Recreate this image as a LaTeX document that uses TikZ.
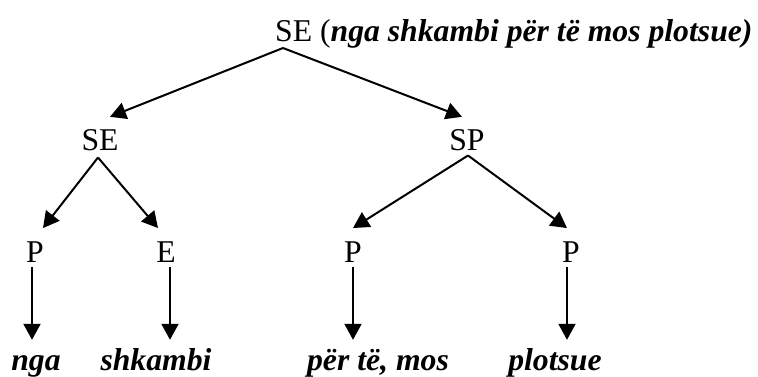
\documentclass[tikz,border=0pt]{standalone}
\usepackage{fontspec}
\setmainfont{Liberation Serif}
\usetikzlibrary{arrows.meta,calc}
\begin{document}
\begin{tikzpicture}[x=1pt,y=1pt,
  lbl/.style={inner sep=0pt,anchor=base,font=\fontsize{31.7}{38}\selectfont},
  leaf/.style={lbl,font=\fontsize{31.7}{38}\selectfont\bfseries\itshape,text height=22pt,text depth=7pt},
  arr/.style={line width=2pt,-{Triangle[length=16pt,width=17pt]}}]
\useasboundingbox (0,0) rectangle (758,-377);
% nodes
\node[lbl,anchor=base west] (root) at (275,-42) {SE (\textbf{\textit{nga shkambi për të mos plotsue)}}};
\coordinate (ra) at (283,-48);
\node[lbl] (se) at (100,-151) {SE};
\node[lbl] (sp) at (467,-151) {SP};
\node[lbl] (p1) at (35,-262) {P};
\node[lbl] (e2) at (166,-262) {E};
\node[lbl] (p3) at (353,-262) {P};
\node[lbl] (p4) at (571,-262) {P};
\node[leaf] (l1) at (36,-370) {nga};
\node[leaf] (l2) at (156,-370) {shkambi};
\node[leaf] (l3) at (378,-370) {për të, mos};
\node[leaf] (l4) at (555,-370) {plotsue};
% connectors
\draw[arr] (ra) -- ([xshift=10pt,yshift=13pt]se.north);
\draw[arr] (ra) -- ([xshift=-5pt,yshift=13pt]sp.north);
\draw[arr] ([xshift=-2pt,yshift=-6pt]se.south) -- ([xshift=8pt,yshift=13pt]p1.north);
\draw[arr] ([xshift=-2pt,yshift=-6pt]se.south) -- ([xshift=-8pt,yshift=13pt]e2.north);
\draw[arr] ([xshift=1pt,yshift=-4pt]sp.south) -- ([yshift=13pt]p3.north);
\draw[arr] ([xshift=1pt,yshift=-4pt]sp.south) -- ([xshift=-4pt,yshift=13pt]p4.north);
\draw[arr] ([xshift=-3pt,yshift=-5pt]p1.south) -- ($([xshift=-3pt]p1.south |- l1.north)+(0,8pt)$);
\draw[arr] ([xshift=4pt,yshift=-5pt]e2.south) -- ($([xshift=4pt]e2.south |- l2.north)+(0,8pt)$);
\draw[arr] ([yshift=-5pt]p3.south) -- ($(p3.south |- l3.north)+(0,8pt)$);
\draw[arr] ([xshift=-4pt,yshift=-5pt]p4.south) -- ($([xshift=-4pt]p4.south |- l4.north)+(0,8pt)$);
\end{tikzpicture}
\end{document}
